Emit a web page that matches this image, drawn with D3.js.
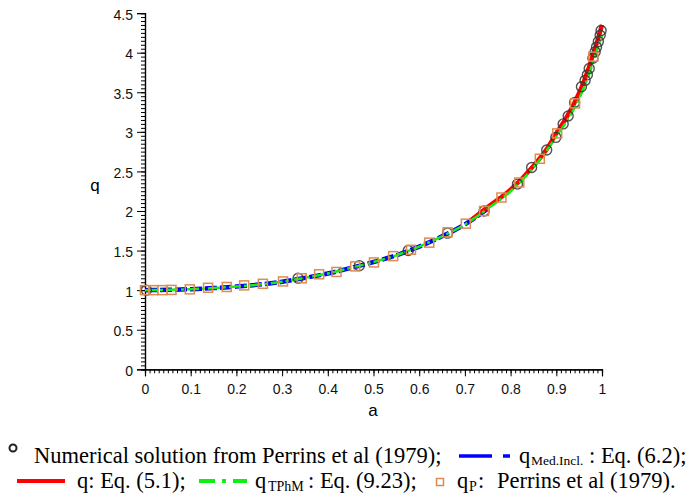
<!DOCTYPE html>
<html><head><meta charset="utf-8">
<script src="https://cdn.jsdelivr.net/npm/d3@7"></script>
<style>body{margin:0;background:#fff}svg{display:block}text{white-space:pre}</style>
</head><body><svg id="c" width="690" height="498"></svg>
<script>
// ---------- data ----------
const xTicks = [0,0.1,0.2,0.3,0.4,0.5,0.6,0.7,0.8,0.9,1];
const xTickLabels = ["0","0.1","0.2","0.3","0.4","0.5","0.6","0.7","0.8","0.9","1"];
const yTicks = [0,0.5,1,1.5,2,2.5,3,3.5,4,4.5];
const yTickLabels = ["0","0.5","1","1.5","2","2.5","3","3.5","4","4.5"];

// q_Med.Incl. : Eq. (6.2)  (blue dashed)
const blueA = [0,0.05,0.1,0.15,0.2,0.25,0.3,0.35,0.4,0.45,0.5,0.55,0.6,0.65,0.7,0.75];
const blueQ = [1.0,1.004,1.012,1.026,1.045,1.07,1.105,1.155,1.21,1.28,1.355,1.44,1.55,1.68,1.83,2.03];
// q : Eq. (5.1)  (red solid)
const redA = [0.71,0.75,0.8,0.85,0.88,0.9,0.92,0.94,0.96,0.97,0.98,0.99,1.0];
const redQ = [1.87,2.05,2.27,2.57,2.79,2.98,3.16,3.37,3.63,3.79,3.97,4.15,4.35];
// q_TPhM : Eq. (9.23)  (green dash-dot)
const greenA = [0,0.05,0.1,0.15,0.2,0.25,0.3,0.35,0.4,0.45,0.5,0.55,0.6,0.65,0.7,0.75,0.8,0.85,0.9,0.95,0.97,0.98,0.99,1.0];
const greenQ = [1.0,1.004,1.012,1.026,1.045,1.07,1.105,1.155,1.21,1.28,1.355,1.44,1.55,1.68,1.83,2.03,2.25,2.55,2.94,3.42,3.70,3.87,4.05,4.22];
// Numerical solution from Perrins et al (1979)  (circles)
const numA = [0.003,0.335,0.469,0.576,0.662,0.742,0.815,0.846,0.879,0.899,0.915,0.926,0.94,0.955,0.963,0.968,0.972,0.98,0.985,0.988,0.992,0.996,0.998];
const numQ = [1.0,1.15,1.31,1.50,1.72,2.0,2.34,2.55,2.77,2.93,3.10,3.20,3.37,3.57,3.65,3.72,3.80,3.93,4.01,4.07,4.14,4.22,4.28];
// q_P : Perrins et al (1979)  (squares)
const perA = [0.0,0.018,0.038,0.058,0.098,0.138,0.179,0.217,0.258,0.302,0.343,0.381,0.419,0.46,0.501,0.543,0.582,0.622,0.662,0.702,0.742,0.78,0.819,0.864,0.902,0.941,0.981];
const perQ = [1.0,1.0,1.0,1.003,1.01,1.03,1.04,1.06,1.08,1.11,1.15,1.20,1.23,1.30,1.35,1.43,1.51,1.60,1.73,1.84,2.0,2.17,2.36,2.66,2.98,3.36,3.95];

const axisXLabel = "a", axisYLabel = "q";

// ---------- drawing ----------
const svg = d3.select("#c");
const x = d3.scaleLinear().domain([0,1]).range([145,602]);
const y = d3.scaleLinear().domain([0,4.5]).range([369.3,13.1]);

// axes
const minorX = d3.range(0,1.0001,0.01);
const minorY = d3.range(0,4.5001,0.05);
const gx = svg.append("g").attr("transform",`translate(0,${y(0)})`);
gx.call(d3.axisBottom(x).tickValues(minorX).tickSize(4).tickFormat(""));
gx.append("g").call(d3.axisBottom(x).tickValues(xTicks).tickSize(7).tickFormat((d,i)=>xTickLabels[i]));
const gy = svg.append("g").attr("transform",`translate(${x(0)},0)`);
gy.call(d3.axisLeft(y).tickValues(minorY).tickSize(4).tickFormat(""));
gy.append("g").call(d3.axisLeft(y).tickValues(yTicks).tickSize(8).tickFormat((d,i)=>yTickLabels[i]));
svg.selectAll(".domain").attr("stroke","#000").attr("stroke-width",1.2);
svg.selectAll(".tick line").attr("stroke","#000").attr("stroke-width",1);
svg.selectAll(".tick text").attr("font-family","Liberation Sans, Arial, sans-serif").attr("font-size",14).attr("fill","#111");
gx.selectAll(".tick text").attr("dy",0).attr("y",25);
gy.selectAll(".tick text").attr("dy",0).attr("x",-12).attr("y",6);

svg.append("text").attr("x",373).attr("y",416).attr("text-anchor","middle")
  .attr("font-family","Liberation Sans, Arial, sans-serif").attr("font-size",17).text(axisXLabel);
svg.append("text").attr("x",95).attr("y",191).attr("text-anchor","middle")
  .attr("font-family","Liberation Sans, Arial, sans-serif").attr("font-size",17).text(axisYLabel);

const line = d3.line().x(d=>x(d[0])).y(d=>y(d[1])).curve(d3.curveMonotoneX);
const zip = (a,b)=>a.map((v,i)=>[v,b[i]]);

svg.append("path").attr("d",line(zip(blueA,blueQ))).attr("fill","none")
  .attr("stroke","#0000ff").attr("stroke-width",4.5).attr("stroke-dasharray","12,3");
svg.append("path").attr("d",line(zip(redA,redQ))).attr("fill","none")
  .attr("stroke","#ff0000").attr("stroke-width",4.5);
svg.append("path").attr("d",line(zip(greenA,greenQ))).attr("fill","none")
  .attr("stroke","#11ee11").attr("stroke-width",2.5).attr("stroke-dasharray","12,3,3,3");

svg.append("g").selectAll("circle").data(zip(numA,numQ)).join("circle")
  .attr("cx",d=>x(d[0])).attr("cy",d=>y(d[1])).attr("r",5)
  .attr("fill","none").attr("stroke","#333").attr("stroke-width",1.4).attr("stroke-opacity",0.85);
svg.append("g").selectAll("rect").data(zip(perA,perQ)).join("rect")
  .attr("x",d=>x(d[0])-4.5).attr("y",d=>y(d[1])-4.5).attr("width",9).attr("height",9)
  .attr("fill","none").attr("stroke","#dc8c50").attr("stroke-width",1.5);

// ---------- legend ----------
const lf = "Liberation Serif, Times New Roman, serif";
const L = svg.append("g").attr("font-family",lf).attr("fill","#000");
function txt(xp, yp, s, size){ L.append("text").attr("x",xp).attr("y",yp).attr("font-size",size).text(s); }
// row 1
L.append("circle").attr("cx",13).attr("cy",448).attr("r",3.5).attr("fill","none").attr("stroke","#222").attr("stroke-width",2);
txt(34,463,"Numerical solution from Perrins et al (1979);",22.5);
L.append("line").attr("x1",459).attr("x2",510).attr("y1",456).attr("y2",456)
  .attr("stroke","#0000ff").attr("stroke-width",3.5).attr("stroke-dasharray","33,11,7");
txt(519,463,"q",22.5); txt(531,465,"Med.Incl.",13.5); txt(589,463,": Eq. (6.2);",22.5);
// row 2
L.append("line").attr("x1",17).attr("x2",65).attr("y1",481).attr("y2",481)
  .attr("stroke","#ff0000").attr("stroke-width",4);
txt(77,488,"q: Eq. (5.1);",22.5);
L.append("line").attr("x1",199).attr("x2",247).attr("y1",481).attr("y2",481)
  .attr("stroke","#11ee11").attr("stroke-width",4).attr("stroke-dasharray","16,7,4,7,14");
txt(255,488,"q",22.5); txt(268,491,"TPhM",14); txt(308,488,": Eq. (9.23);",22.5);
L.append("rect").attr("x",436.5).attr("y",478.5).attr("width",7).attr("height",7)
  .attr("fill","none").attr("stroke","#dc8c50").attr("stroke-width",1.5);
txt(457,488,"q",22.5); txt(469,491,"P",14); txt(478,488,":",22.5); txt(497,488,"Perrins et al (1979).",22.5);
</script></body></html>
